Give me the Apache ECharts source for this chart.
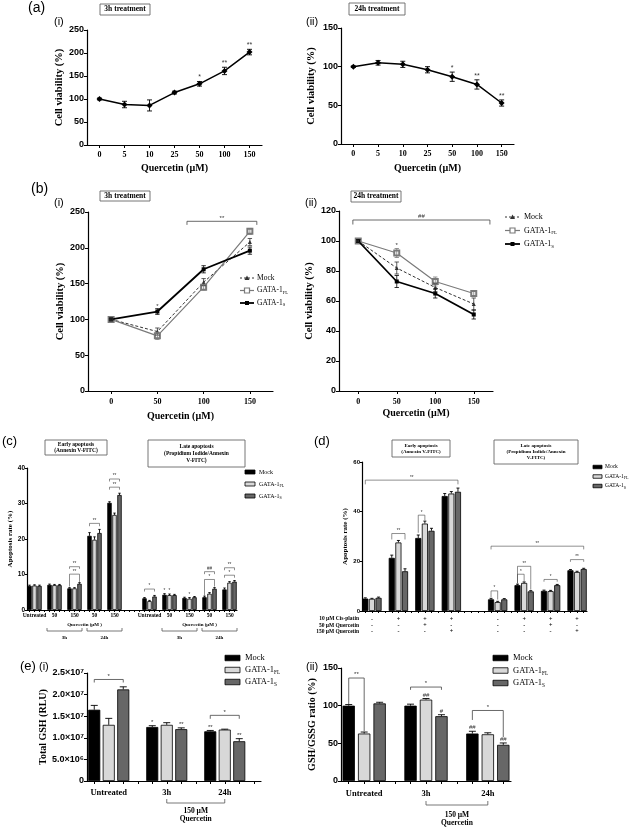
<!DOCTYPE html>
<html><head><meta charset="utf-8">
<script src="https://cdn.jsdelivr.net/npm/echarts@6/dist/echarts.min.js"></script>
<style>html,body{margin:0;padding:0;background:#fff}#c{width:633px;height:829px}</style>
</head><body><div id="c"></div>
<script>
// ================= DATA =================
// (a) quercetin dose response, single line
const aDoses = ['0', '5', '10', '25', '50', '100', '150'];
const aYTicks3h = [0, 50, 100, 150, 200, 250];
const aYTicks24h = [0, 50, 100, 150];
const a3hMean = [100, 88, 86, 114, 133, 161, 202];
const a3hErr = [2, 7, 12, 3, 5, 8, 6];
const a3hSig = ['', '', '', '', '*', '**', '**'];
const a24hMean = [100, 105, 103, 96, 87, 77, 53];
const a24hErr = [1, 3, 4, 4, 6, 6, 4];
const a24hSig = ['', '', '', '', '*', '**', '**'];

// (b) three cell lines
const bDoses = ['0', '50', '100', '150'];
const bYTicks3h = [0, 50, 100, 150, 200, 250];
const bYTicks24h = [0, 20, 40, 60, 80, 100, 120];
const b3hMock = [100, 83, 152, 208];  const b3hMockErr = [1, 5, 5, 5];
const b3hFL = [100, 77, 145, 223];    const b3hFLErr = [1, 5, 4, 4];
const b3hS = [100, 111, 170, 196];    const b3hSErr = [1, 4, 5, 5];
const b24hMock = [100, 82, 69, 58];   const b24hMockErr = [1, 4, 3, 4];
const b24hFL = [100, 92, 73, 65];     const b24hFLErr = [1, 3, 3, 2];
const b24hS = [100, 73, 65, 51];      const b24hSErr = [1, 4, 3, 3];

const seriesNames = ['Mock', 'GATA-1FL', 'GATA-1S'];

// (c) apoptosis with quercetin
const cGroups = ['Untreated', '50', '150', '50', '150', 'Untreated', '50', '150', '50', '150'];
const cYTicks = [0, 10, 20, 30, 40];
const cMock = [6.8, 7.1, 6.1, 20.9, 30.2, 3.3, 4.3, 3.4, 3.6, 5.8];
const cFL   = [6.9, 7.0, 6.1, 19.8, 26.8, 2.5, 4.2, 3.2, 4.6, 7.7];
const cS    = [6.8, 7.0, 7.4, 21.7, 32.4, 3.8, 4.2, 3.6, 6.0, 8.0];
const cMockErr = [0.2, 0.2, 0.2, 0.9, 0.3, 0.2, 0.3, 0.2, 0.3, 0.4];
const cFLErr   = [0.2, 0.2, 0.2, 0.8, 0.5, 0.2, 0.3, 0.3, 0.3, 0.3];
const cSErr    = [0.2, 0.2, 0.3, 1.0, 0.5, 0.3, 0.2, 0.2, 0.3, 0.3];

// (d) apoptosis with cis-platin / quercetin
const dRowNames = ['10 µM Cis-platin', '50 µM Quercetin', '150 µM Quercetin'];
const dCis  = ['-', '+', '+', '+', '-', '+', '+', '+'];
const dQ50  = ['-', '-', '+', '-', '-', '-', '+', '-'];
const dQ150 = ['-', '-', '-', '+', '-', '-', '-', '+'];
const dYTicks = [0, 20, 40, 60];
const dMock = [5.0, 21.4, 29.4, 46.3, 4.7, 10.4, 8.1, 16.4];
const dFL   = [4.9, 27.6, 35.2, 47.3, 3.6, 11.3, 8.0, 15.7];
const dS    = [5.3, 16.0, 32.3, 48.0, 4.7, 7.9, 10.4, 16.9];
const dMockErr = [0.3, 1.1, 1.2, 1.0, 0.4, 0.4, 0.3, 0.3];
const dFLErr   = [0.2, 0.8, 1.0, 0.8, 0.3, 0.4, 0.3, 0.3];
const dSErr    = [0.3, 1.0, 1.0, 1.5, 0.3, 0.3, 0.3, 0.3];

// (e) glutathione
const eGroups = ['Untreated', '3h', '24h'];
const e1YTicks = [0, 5e6, 1e7, 1.5e7, 2e7, 2.5e7];
const e1Mock = [1.65e7, 1.25e7, 1.15e7]; const e1MockErr = [0.10e7, 0.03e7, 0.02e7];
const e1FL   = [1.30e7, 1.30e7, 1.19e7]; const e1FLErr   = [0.15e7, 0.05e7, 0.01e7];
const e1S    = [2.12e7, 1.20e7, 0.92e7]; const e1SErr    = [0.06e7, 0.03e7, 0.06e7];
const e2YTicks = [0, 50, 100, 150];
const e2Mock = [100, 100, 63]; const e2MockErr = [1.5, 2, 3];
const e2FL   = [63, 108, 62];  const e2FLErr   = [2, 1.5, 2];
const e2S    = [103, 86, 48];  const e2SErr    = [1.5, 2, 2.5];

// significance annotations: [slotFrom, slotTo, y, yLegLeft, yLegRight, text] / [slot, y, text]
const cBrackets = [[8,10,12.2,11.6,11.6,'**'],[8,10,10.1,6.6,7.9,'**'],[12,14,24.4,23.6,23.6,'**'],
  [16,18,36.9,36.2,36.2,'**'],[16,18,34.6,33.9,33.9,'**'],[23,25,5.9,5.2,5.2,'*'],
  [35,37,10.8,10.1,10.1,'##'],[35,37,8.6,4.0,6.6,'*'],[39,41,11.9,11.2,11.2,'**'],[39,41,9.8,9.1,9.1,'*']];
const cStars = [[27,4.6,'*'],[28,4.5,'*'],[32,3.5,'*']];
const dBrackets = [[0,14,52.7,51.0,51.0,'**'],[4,6,31.2,28.8,28.8,'**'],[8,9,38.6,31.5,36.6,'*'],
  [19,33,26.1,24.8,24.8,'**'],[19,20,8.1,5.6,4.6,'*'],[23,25,18.0,11.2,8.6,'**'],[23,24,14.8,11.0,12.0,'*'],
  [27,29,12.7,11.8,11.8,'*'],[31,33,20.7,19.8,19.8,'**']];
const e1Brackets = [[0,2,2.35e7,2.28e7,2.28e7,'*'],[8,10,1.52e7,1.44e7,1.44e7,'*']];
const e1Stars = [[4,1.28e7,'*'],[6,1.23e7,'**'],[8,1.17e7,'**'],[10,0.98e7,'**']];
const e2Brackets = [[0,1,136.7,102,66,'**'],[4,6,124.7,121,121,'*'],[8,10,93.6,81,58,'*']];
const e2Stars = [[5,109.5,'##'],[6,88,'#'],[8,66,'##'],[10,51,'##']];

// ================= HELPERS =================
const SANS = "'Liberation Sans', Arial, Helvetica, sans-serif";
const SERIF = "'Liberation Serif', 'Times New Roman', Times, serif";
const COL = {mock:'#000000', fl:'#d8d8d8', s:'#676767'};

function merge(a, b) {
  const o = Object.assign({}, a);
  for (const k in b) {
    if (b[k] && typeof b[k] === 'object' && !Array.isArray(b[k]) && a[k] && typeof a[k] === 'object' && !Array.isArray(a[k])) o[k] = merge(a[k], b[k]);
    else o[k] = b[k];
  }
  return o;
}
function yAx(gi, ticks, extra) {
  return merge({
    type:'value', gridIndex:gi, min:ticks[0], max:ticks[ticks.length-1], interval:ticks[1]-ticks[0],
    axisLine:{show:true, lineStyle:{color:'#000', width:1.2}},
    axisTick:{show:true, length:3, lineStyle:{color:'#000', width:1}},
    splitLine:{show:false},
    axisLabel:{color:'#000', fontFamily:SANS, fontWeight:'bold', fontSize:9, margin:3},
    nameLocation:'middle', nameRotate:90,
    nameTextStyle:{fontFamily:SERIF, fontWeight:'bold', fontSize:10.5, color:'#000'}
  }, extra || {});
}
function xCat(gi, data, extra) {
  return merge({
    type:'category', gridIndex:gi, data:data, boundaryGap:true,
    axisLine:{show:true, onZero:false, lineStyle:{color:'#000', width:1.2}},
    axisTick:{show:true, alignWithLabel:true, interval:0, length:3, lineStyle:{color:'#000', width:1}},
    splitLine:{show:false},
    axisLabel:{interval:0, color:'#000', fontFamily:SERIF, fontWeight:'bold', fontSize:8, margin:6},
    nameLocation:'middle',
    nameTextStyle:{fontFamily:SERIF, fontWeight:'bold', fontSize:10, color:'#000'}
  }, extra || {});
}
function slotAxis(gi, n, labelOfSlot, extra) {
  const cats = Array.from({length:n}, (_, i) => 's' + i);
  return xCat(gi, cats, merge({axisLabel:{formatter:(v, i) => labelOfSlot(i)}}, extra || {}));
}
// pixel of fractional category position f at value y
function px(api, f, y) {
  const p0 = api.coord([0, y]), p1 = api.coord([1, y]);
  return [p0[0] + f * (p1[0] - p0[0]), p0[1]];
}
function errSeries(gi, pts, cap, both, color, lw) {
  return {type:'custom', xAxisIndex:gi, yAxisIndex:gi, silent:true, z:5, clip:false,
    data: pts.map(p => [p[0], p[1]]),
    renderItem(params, api) {
      const p = pts[params.dataIndex];
      const top = px(api, p[0], p[1] + p[2]);
      const bot = px(api, p[0], both ? p[1] - p[2] : p[1]);
      const st = {stroke: color || '#000', lineWidth: lw || 1};
      const ch = [
        {type:'line', shape:{x1:top[0], y1:top[1], x2:bot[0], y2:bot[1]}, style:st},
        {type:'line', shape:{x1:top[0]-cap, y1:top[1], x2:top[0]+cap, y2:top[1]}, style:st}
      ];
      if (both) ch.push({type:'line', shape:{x1:bot[0]-cap, y1:bot[1], x2:bot[0]+cap, y2:bot[1]}, style:st});
      return {type:'group', children:ch};
    }};
}
function starSeries(gi, items, fs) {
  return {type:'custom', xAxisIndex:gi, yAxisIndex:gi, silent:true, z:6, clip:false,
    data: items.map(it => [Math.round(it[0]), it[1]]),
    renderItem(params, api) {
      const it = items[params.dataIndex];
      const p = px(api, it[0], it[1]);
      return {type:'text', x:p[0], y:p[1]-0.5, style:{text:it[2], fontSize:fs, fontFamily:SANS, fill:'#333', align:'center', verticalAlign:'bottom'}};
    }};
}
function bracketSeries(gi, items, fs, lw) {
  return {type:'custom', xAxisIndex:gi, yAxisIndex:gi, silent:true, z:6, clip:false,
    data: items.map(it => [Math.round(it[0]), it[2]]),
    renderItem(params, api) {
      const it = items[params.dataIndex];
      const a = px(api, it[0], it[2]), b = px(api, it[1], it[2]);
      const al = px(api, it[0], it[3]), br = px(api, it[1], it[4]);
      return {type:'group', children:[
        {type:'polyline', shape:{points:[[a[0], al[1]], a, b, [b[0], br[1]]]}, style:{stroke:'#444', lineWidth:lw || 0.8, fill:null}},
        {type:'text', x:(a[0]+b[0])/2, y:a[1]-0.3, style:{text:it[5], fontSize:fs, fontFamily:SANS, fill:'#333', align:'center', verticalAlign:'bottom'}}
      ]};
    }};
}
// annotations below the x axis: {k:'br', x1, x2, off, tick} or {k:'tx', x, off, text, fs}
function underSeries(gi, items) {
  return {type:'custom', xAxisIndex:gi, yAxisIndex:gi, silent:true, z:6, clip:false,
    data: items.map(() => [0, 0]),
    renderItem(params, api) {
      const it = items[params.dataIndex];
      if (it.k === 'br') {
        const a = px(api, it.x1, 0), b = px(api, it.x2, 0);
        const y = a[1] + it.off;
        return {type:'polyline', shape:{points:[[a[0], y - it.tick], [a[0], y], [b[0], y], [b[0], y - it.tick]]}, style:{stroke:'#555', lineWidth:0.8, fill:null}};
      }
      const p = px(api, it.x, 0);
      return {type:'text', x:p[0], y:p[1] + it.off, style:{text:it.text, fontSize:it.fs, fontFamily:SERIF, fontWeight:'bold', fill:'#000', align:'center', verticalAlign:'middle'}};
    }};
}
function barSet(gi, nslots, slotOf, vals, errs, catGap, cap) {
  const out = [];
  const cols = [COL.mock, COL.fl, COL.s];
  vals.forEach((v, k) => {
    const d = new Array(nslots).fill('-');
    v.forEach((val, g) => { d[slotOf(g) + k] = val; });
    out.push({type:'bar', name:seriesNames[k], xAxisIndex:gi, yAxisIndex:gi, data:d, barGap:'-100%', barCategoryGap:catGap,
      itemStyle:{color:cols[k], borderColor:'#000', borderWidth:0.8}, z:2, silent:true});
  });
  const pts = [];
  vals.forEach((v, k) => v.forEach((val, g) => pts.push([slotOf(g) + k, val, errs[k][g]])));
  out.push(errSeries(gi, pts, cap, false, '#000', 0.9));
  return out;
}
function lineSet(gi, mock, fl, s, eM, eF, eS) {
  const mk = (a, e) => a.map((v, i) => [i, v, e[i]]);
  return [
    {type:'line', name:seriesNames[0], xAxisIndex:gi, yAxisIndex:gi, data:mock, symbol:'triangle', symbolSize:4,
      lineStyle:{color:'#333', width:1, type:[3, 2]}, itemStyle:{color:'#333'}, z:3, silent:true},
    {type:'line', name:seriesNames[1], xAxisIndex:gi, yAxisIndex:gi, data:fl, symbol:'emptyRect', symbolSize:5,
      lineStyle:{color:'#7a7a7a', width:1.2}, itemStyle:{color:'#7a7a7a', borderWidth:1.2}, z:3, silent:true},
    {type:'line', name:seriesNames[2], xAxisIndex:gi, yAxisIndex:gi, data:s, symbol:'rect', symbolSize:4,
      lineStyle:{color:'#000', width:1.8}, itemStyle:{color:'#000'}, z:4, silent:true},
    errSeries(gi, mk(mock, eM), 2.2, true, '#333', 0.8),
    errSeries(gi, mk(fl, eF), 2.2, true, '#7a7a7a', 0.8),
    errSeries(gi, mk(s, eS), 2.2, true, '#000', 0.8)
  ];
}

// slot layouts (3 bars + 1 gap per group)
const cSlot = g => g < 5 ? 4 * g : 23 + 4 * (g - 5);
const dSlot = g => g < 4 ? 4 * g : 19 + 4 * (g - 4);
const eSlot = g => 4 * g;
function centerLabels(n, groups, slotOf, lab) {
  const arr = new Array(n).fill('');
  groups.forEach((_, g) => { arr[slotOf(g) + 1] = lab(g); });
  return i => arr[i];
}

// ================= GRAPHIC (text, boxes, legends) =================
function txt(x, y, text, fs, opts) {
  return {type:'text', x, y, silent:true, style:Object.assign({text, fontSize:fs, fontFamily:SANS, fill:'#000', align:'left', verticalAlign:'top'}, opts || {})};
}
function box(x, y, w, h, text, fs) {
  return [
    {type:'rect', silent:true, shape:{x, y, width:w, height:h}, style:{fill:'#fff', stroke:'#666', lineWidth:0.9}},
    {type:'text', silent:true, x:x + w/2, y:y + h/2, style:{text, fontFamily:SERIF, fontWeight:'bold', fontSize:fs, fill:'#000', align:'center', verticalAlign:'middle', lineHeight:fs * 1.2}}
  ];
}
const legendLabels = [['Mock', ''], ['GATA-1', 'FL'], ['GATA-1', 'S']];
function richLabel(x, y, base, sub, fs) {
  const lh = fs + 2;
  return {type:'text', silent:true, x, y, style:{
    text: sub ? '{n|' + base + '}{s|' + sub + '}' : '{n|' + base + '}',
    rich:{n:{fontFamily:SERIF, fontSize:fs, lineHeight:lh, verticalAlign:'middle', fill:'#000'},
          s:{fontFamily:SERIF, fontSize:Math.max(fs * 0.62, 4), lineHeight:lh, verticalAlign:'bottom', fill:'#000'}},
    align:'left', verticalAlign:'middle'}};
}
function barLegend(x, y0, dy, sw, sh, fs, tx) {
  const cols = [COL.mock, COL.fl, COL.s];
  const out = [];
  legendLabels.forEach((l, i) => {
    const y = y0 + i * dy;
    out.push({type:'rect', silent:true, shape:{x, y:y - sh/2, width:sw, height:sh}, style:{fill:cols[i], stroke:'#000', lineWidth:0.8}});
    out.push(richLabel(tx, y, l[0], l[1], fs));
  });
  return out;
}
function lineLegend(x1, x2, y0, dy, fs, tx) {
  const out = [];
  const cx = (x1 + x2) / 2;
  const st = [
    {stroke:'#333', lineWidth:1, lineDash:[2, 2]},
    {stroke:'#7a7a7a', lineWidth:1.2},
    {stroke:'#000', lineWidth:1.8}
  ];
  legendLabels.forEach((l, i) => {
    const y = y0 + i * dy;
    out.push({type:'line', silent:true, shape:{x1, y1:y, x2, y2:y}, style:st[i]});
    if (i === 0) out.push({type:'polygon', silent:true, shape:{points:[[cx, y-2.5], [cx-2.5, y+2], [cx+2.5, y+2]]}, style:{fill:'#333'}});
    if (i === 1) out.push({type:'rect', silent:true, shape:{x:cx-2.5, y:y-2.5, width:5, height:5}, style:{fill:'#fff', stroke:'#7a7a7a', lineWidth:1.2}});
    if (i === 2) out.push({type:'rect', silent:true, shape:{x:cx-2, y:y-2, width:4, height:4}, style:{fill:'#000'}});
    out.push(richLabel(tx, y, l[0], l[1], fs));
  });
  return out;
}

const graphic = [].concat(
  txt(28, 1, '(a)', 14), txt(54, 16, '(i)', 11), txt(306, 16, '(ii)', 11),
  box(100, 4, 50, 11, '3h treatment', 7.5), box(349, 3, 56, 12, '24h treatment', 7.5),
  txt(31, 182, '(b)', 14), txt(54, 197, '(i)', 11), txt(305, 197, '(ii)', 11),
  box(100, 191, 50, 10, '3h treatment', 7.5), box(351, 191, 50, 11, '24h treatment', 7.5),
  lineLegend(240, 254, 278, 12.5, 7.5, 257),
  lineLegend(505, 520, 217, 13.5, 8, 524),
  txt(2, 435, '(c)', 13), txt(314, 435, '(d)', 13),
  box(45, 440, 62, 15, 'Early apoptosis\n(Annexin V-FITC)', 5.5),
  box(148, 440, 97, 27, 'Late apoptosis\n(Propidium Iodide/Annexin\nV-FITC)', 5.5),
  box(392, 440, 58, 17, 'Early apoptosis\n(Annexin V-FITC)', 5),
  box(494, 440, 84, 24, 'Late apoptosis\n(Propidium Iodide/Annexin\nV-FITC)', 5),
  barLegend(245, 472, 12, 10, 4, 6, 259),
  barLegend(593, 467, 9.5, 9, 3.5, 5.5, 605),
  dRowNames.map((n, i) => txt(359, 619 + i * 6.3, n, 5.5, {fontFamily:SERIF, fontWeight:'bold', align:'right', verticalAlign:'middle'})),
  txt(20, 660, '(e)', 13), txt(39, 661, '(i)', 11), txt(306, 661, '(ii)', 11),
  barLegend(225, 658, 12, 15, 5.5, 8.5, 245),
  barLegend(493, 658, 12.5, 15, 5.5, 8.5, 513)
);

// ================= OPTION =================
const grids = [
  {left:87, top:30, width:175, height:115},
  {left:341, top:28, width:173, height:116},
  {left:88, top:212, width:185, height:179},
  {left:339, top:211, width:154, height:180},
  {left:27, top:468, width:210, height:142},
  {left:362, top:462, width:225, height:149},
  {left:87, top:673, width:174, height:108},
  {left:341, top:668, width:170, height:113}
].map(g => Object.assign({containLabel:false, outerBoundsMode:'none'}, g));

const eFmt = v => v === 0 ? '0' : (v >= 1e7 ? (v / 1e7).toFixed(1) + '×10⁷' : (v / 1e6).toFixed(1) + '×10⁶');

const xAxis = [
  xCat(0, aDoses, {name:'Quercetin (µM)', nameGap:18}),
  xCat(1, aDoses, {name:'Quercetin (µM)', nameGap:19}),
  xCat(2, bDoses, {name:'Quercetin (µM)', nameGap:20, axisLabel:{margin:7}}),
  xCat(3, bDoses, {name:'Quercetin (µM)', nameGap:17, axisLabel:{margin:7}}),
  slotAxis(4, 42, centerLabels(42, cGroups, cSlot, g => cGroups[g]), {axisLabel:{fontSize:5.5, margin:3}, axisTick:{length:2}}),
  slotAxis(5, 34, centerLabels(34, dCis, dSlot, g => dCis[g] + '\n' + dQ50[g] + '\n' + dQ150[g]), {axisLabel:{fontSize:6, lineHeight:6.3, margin:5}, axisTick:{length:2}}),
  slotAxis(6, 12, centerLabels(12, eGroups, eSlot, g => eGroups[g]), {axisLabel:{fontSize:8.5, margin:7}}),
  slotAxis(7, 11, centerLabels(11, eGroups, eSlot, g => eGroups[g]), {axisLabel:{fontSize:8.5, margin:8}})
];
const yAxis = [
  yAx(0, aYTicks3h, {name:'Cell viability (%)', nameGap:22}),
  yAx(1, aYTicks24h, {name:'Cell viability (%)', nameGap:24}),
  yAx(2, bYTicks3h, {name:'Cell viability (%)', nameGap:21}),
  yAx(3, bYTicks24h, {name:'Cell viability (%)', nameGap:24}),
  yAx(4, cYTicks, {name:'Apoptosis rate (%)', nameGap:13, axisLabel:{fontSize:6.5, margin:2}, axisTick:{length:2}, nameTextStyle:{fontSize:7}}),
  yAx(5, dYTicks, {name:'Apoptosis rate (%)', nameGap:13, axisLabel:{fontSize:6, margin:2}, axisTick:{length:2}, nameTextStyle:{fontSize:7}}),
  yAx(6, e1YTicks, {name:'Total GSH (RLU)', nameGap:38, axisLabel:{fontSize:9, formatter:eFmt}, nameTextStyle:{fontSize:10}}),
  yAx(7, e2YTicks, {name:'GSH/GSSG ratio (%)', nameGap:24, nameTextStyle:{fontSize:10}})
];

const aStars = (mean, err, sig) => sig.map((s, i) => [i, mean[i] + err[i], s]).filter(d => d[2]);

const series = [].concat(
  // (a)
  {type:'line', xAxisIndex:0, yAxisIndex:0, data:a3hMean, symbol:'diamond', symbolSize:6, lineStyle:{color:'#000', width:1.5}, itemStyle:{color:'#000'}, z:3, silent:true},
  errSeries(0, a3hMean.map((v, i) => [i, v, a3hErr[i]]), 2.5, true, '#000', 0.9),
  starSeries(0, aStars(a3hMean, a3hErr, a3hSig), 7),
  {type:'line', xAxisIndex:1, yAxisIndex:1, data:a24hMean, symbol:'diamond', symbolSize:6, lineStyle:{color:'#000', width:1.5}, itemStyle:{color:'#000'}, z:3, silent:true},
  errSeries(1, a24hMean.map((v, i) => [i, v, a24hErr[i]]), 2.5, true, '#000', 0.9),
  starSeries(1, aStars(a24hMean, a24hErr, a24hSig), 7),
  // (b)
  lineSet(2, b3hMock, b3hFL, b3hS, b3hMockErr, b3hFLErr, b3hSErr),
  bracketSeries(2, [[1.64, 3.15, 237, 232, 232, '**']], 6, 0.8),
  starSeries(2, [[1, 114, '*']], 6),
  lineSet(3, b24hMock, b24hFL, b24hS, b24hMockErr, b24hFLErr, b24hSErr),
  bracketSeries(3, [[-0.14, 3.42, 114, 111, 111, '##']], 6, 0.8),
  starSeries(3, [[1, 95, '*']], 6),
  // (c)
  barSet(4, 42, cSlot, [cMock, cFL, cS], [cMockErr, cFLErr, cSErr], '12%', 1.2),
  bracketSeries(4, cBrackets, 4.5, 0.6),
  starSeries(4, cStars, 4.5),
  underSeries(4, [
    {k:'tx', x:11, off:15, text:'Quercetin (µM )', fs:5},
    {k:'br', x1:3.5, x2:10.5, off:21, tick:3}, {k:'tx', x:7, off:28, text:'3h', fs:5},
    {k:'br', x1:11.5, x2:18.5, off:21, tick:3}, {k:'tx', x:15, off:28, text:'24h', fs:5},
    {k:'tx', x:34, off:15, text:'Quercetin (µM )', fs:5},
    {k:'br', x1:26.5, x2:33.5, off:21, tick:3}, {k:'tx', x:30, off:28, text:'3h', fs:5},
    {k:'br', x1:34.5, x2:41.5, off:21, tick:3}, {k:'tx', x:38, off:28, text:'24h', fs:5}
  ]),
  // (d)
  barSet(5, 34, dSlot, [dMock, dFL, dS], [dMockErr, dFLErr, dSErr], '8%', 1.5),
  bracketSeries(5, dBrackets, 4.5, 0.6),
  // (e)
  barSet(6, 12, eSlot, [e1Mock, e1FL, e1S], [e1MockErr, e1FLErr, e1SErr], '17%', 3.5),
  bracketSeries(6, e1Brackets, 6, 0.8),
  starSeries(6, e1Stars, 6),
  underSeries(6, [
    {k:'br', x1:5, x2:9, off:22, tick:4},
    {k:'tx', x:7, off:30, text:'150 µM', fs:7.5},
    {k:'tx', x:7, off:38.5, text:'Quercetin', fs:7.5}
  ]),
  barSet(7, 11, eSlot, [e2Mock, e2FL, e2S], [e2MockErr, e2FLErr, e2SErr], '20%', 3.5),
  bracketSeries(7, e2Brackets, 6, 0.8),
  starSeries(7, e2Stars, 6),
  underSeries(7, [
    {k:'br', x1:5, x2:9, off:24, tick:4},
    {k:'tx', x:7, off:34, text:'150 µM', fs:7.5},
    {k:'tx', x:7, off:42.5, text:'Quercetin', fs:7.5}
  ])
);

const chart = echarts.init(document.getElementById('c'), null, {renderer:'canvas'});
chart.setOption({animation:false, backgroundColor:'#fff', grid:grids, xAxis, yAxis, series, graphic});
</script></body></html>
